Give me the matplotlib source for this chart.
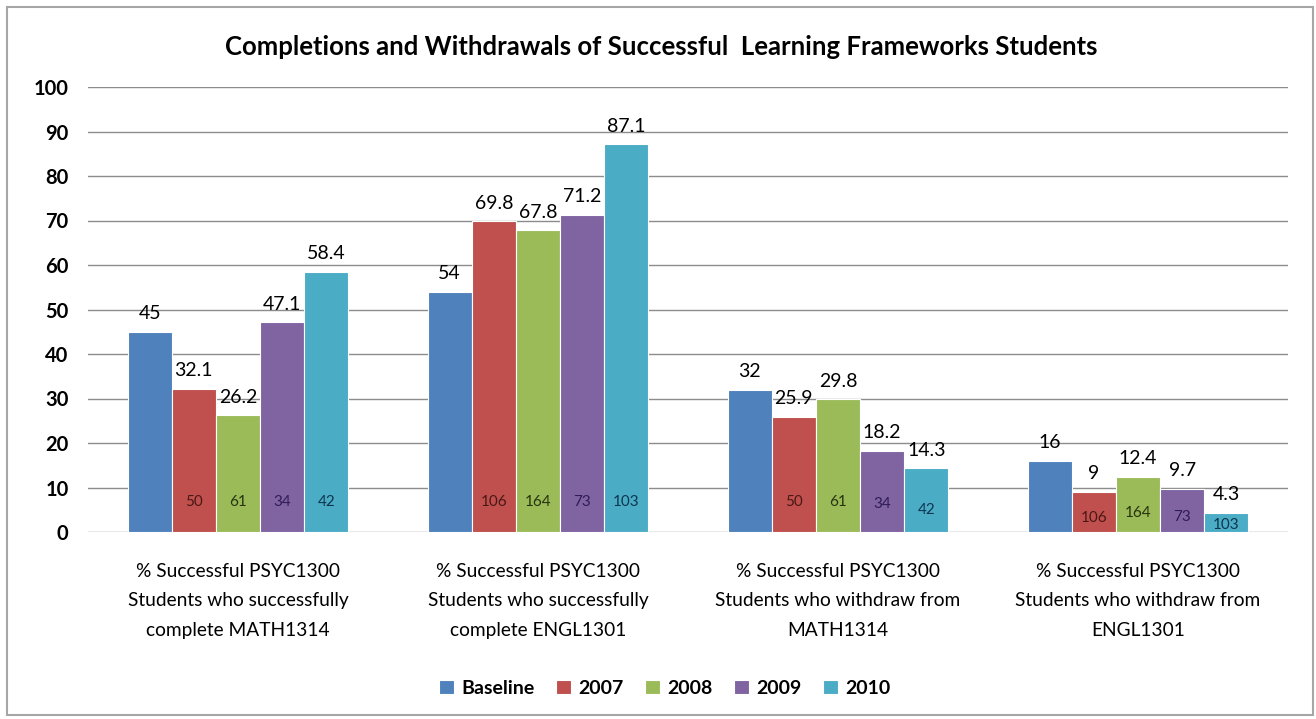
import matplotlib
matplotlib.use("Agg")
import matplotlib.pyplot as plt
from matplotlib.patches import Rectangle
import numpy as np

plt.rcParams['font.family'] = ['Lato', 'DejaVu Sans']

title = "Completions and Withdrawals of Successful  Learning Frameworks Students"
categories = [
    "% Successful PSYC1300\nStudents who successfully\ncomplete MATH1314",
    "% Successful PSYC1300\nStudents who successfully\ncomplete ENGL1301",
    "% Successful PSYC1300\nStudents who withdraw from\nMATH1314",
    "% Successful PSYC1300\nStudents who withdraw from\nENGL1301",
]
series_names = ["Baseline", "2007", "2008", "2009", "2010"]
baseline = [45, 54, 32, 16]
y2007 = [32.1, 69.8, 25.9, 9]
y2008 = [26.2, 67.8, 29.8, 12.4]
y2009 = [47.1, 71.2, 18.2, 9.7]
y2010 = [58.4, 87.1, 14.3, 4.3]
values = [baseline, y2007, y2008, y2009, y2010]

# student counts shown inside bars (none for Baseline)
n2007 = [50, 106, 50, 106]
n2008 = [61, 164, 61, 164]
n2009 = [34, 73, 34, 73]
n2010 = [42, 103, 42, 103]
counts = [None, n2007, n2008, n2009, n2010]

colors = ["#4F81BD", "#C0504D", "#9BBB59", "#8064A2", "#4BACC6"]
count_colors = [None, "#4a1816", "#26330e", "#301c58", "#0e3650"]

W, H = 1316, 719
fig = plt.figure(figsize=(W / 100, H / 100), dpi=100)
ax = fig.add_axes([88 / W, 1 - 532 / H, 1200 / W, 445 / H])

x = np.arange(len(categories))
bw = 0.1473
for i, (vals, col) in enumerate(zip(values, colors)):
    pos = x + (i - 2) * bw
    ax.bar(pos, vals, width=bw, color=col, edgecolor="white",
           linewidth=0.8, label=series_names[i], zorder=3)
    for p, v in zip(pos, vals):
        ax.annotate(f"{v:g}", (p, v), xytext=(0, 7), textcoords="offset points",
                    ha="center", va="bottom", fontsize=14, color="black", zorder=5)
    if counts[i] is not None:
        for p, v, c in zip(pos, vals, counts[i]):
            yy = min(6.8, 0.35 * v)
            ax.text(p, yy, f"{c}", ha="center", va="center", fontsize=11,
                    color=count_colors[i], zorder=5)

ax.set_xlim(-0.5, 3.5)
ax.set_ylim(0, 100)
ax.set_yticks(np.arange(0, 101, 10))
ax.yaxis.grid(True, color="#8c8c8c", linewidth=1.0)
ax.set_axisbelow(True)
for s in ax.spines.values():
    s.set_visible(False)
ax.tick_params(axis="y", length=0, pad=14, labelsize=14.5)
for t in ax.get_yticklabels():
    t.set_fontweight("bold")
ax.set_xticks(x)
ax.set_xticklabels(categories, fontsize=13.8, linespacing=1.9)
ax.tick_params(axis="x", length=0, pad=22)

fig.text(661 / W, 1 - 47 / H, title, ha="center", va="center",
         fontsize=18.5, fontweight="bold")

fig.legend(loc="center", bbox_to_anchor=(665 / W, 1 - 688 / H), ncol=5,
           frameon=False, handlelength=0.75, handleheight=0.75,
           handletextpad=0.4, columnspacing=1.1,
           prop={"size": 14, "weight": "bold"})

fig.patches.append(Rectangle((7 / W, 1 - 715 / H), 1306 / W, 708 / H,
                             transform=fig.transFigure, fill=False,
                             edgecolor="#a6a6a6", linewidth=1.5))

fig.savefig("out.png", dpi=100, facecolor="white")
